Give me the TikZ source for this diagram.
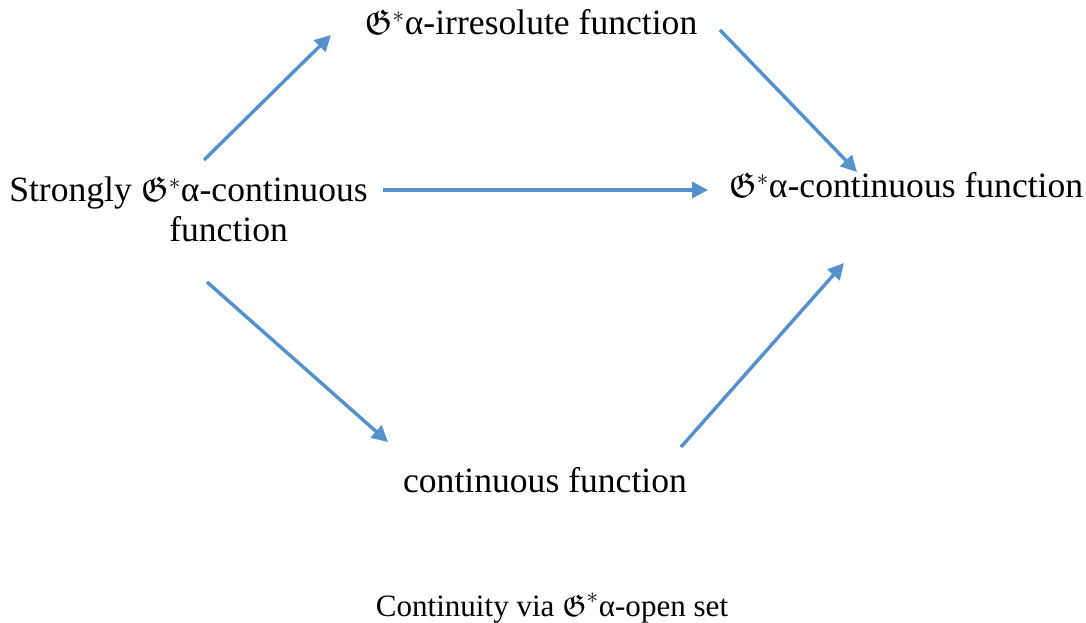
\documentclass[tikz,border=0pt]{standalone}
\usepackage{amssymb}
\usepackage{fontspec}
\setmainfont{Liberation Serif}
\usetikzlibrary{arrows.meta}
\definecolor{arrblue}{RGB}{86,145,204}
\newcommand{\Gs}{$\mathfrak{G}^{*}$}
\tikzset{
  lbl/.style={font=\fontsize{26.7}{30}\selectfont, inner sep=0pt, anchor=base},
  caplbl/.style={font=\fontsize{23.3}{28}\selectfont, inner sep=0pt, anchor=base},
  arr/.style={draw=arrblue, line width=2.6pt, -{Triangle[length=12pt,width=12pt]}}
}
\begin{document}
\begin{tikzpicture}[x=0.75pt,y=-0.75pt]
\useasboundingbox (0,0) rectangle (1086,623);
\node[lbl] (top) at (531,35) {\Gs α-irresolute function};
\node[lbl, anchor=base west, align=left] (left) at (9,242) {Strongly \Gs α-continuous\\\hspace*{120pt}function};
\node[lbl] (right) at (906,198) {\Gs α-continuous function};
\node[lbl] (bot) at (545,493) {continuous function};
\node[caplbl] (cap) at (552,616) {Continuity via \Gs α-open set};
\coordinate (a1s) at (204,160); \coordinate (a1e) at (331,35);
\coordinate (a2s) at (720,30);  \coordinate (a2e) at (857,172);
\coordinate (a3s) at (383,190); \coordinate (a3e) at (708,190);
\coordinate (a4s) at (207,282); \coordinate (a4e) at (388,442);
\coordinate (a5s) at (681,447); \coordinate (a5e) at (844,263);
\draw[arr] (a1s) -- (a1e);
\draw[arr] (a2s) -- (a2e);
\draw[arr] (a3s) -- (a3e);
\draw[arr] (a4s) -- (a4e);
\draw[arr] (a5s) -- (a5e);
\end{tikzpicture}
\end{document}
